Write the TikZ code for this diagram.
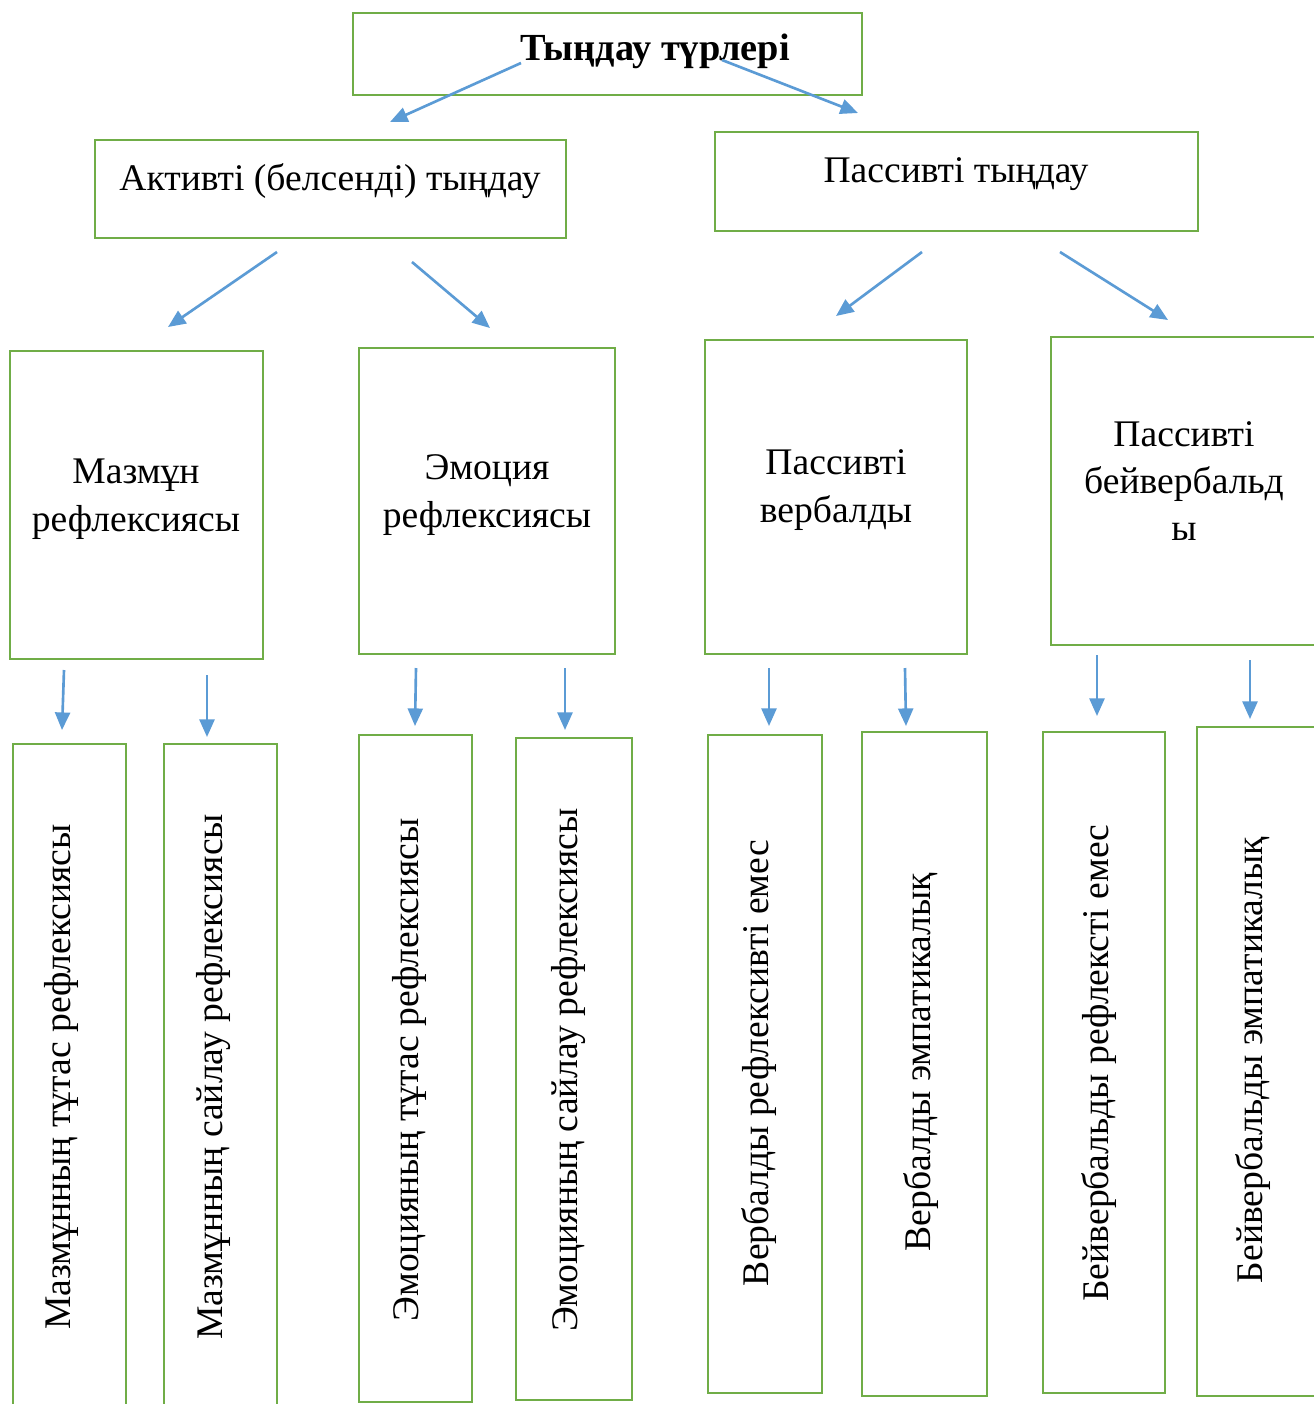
\documentclass[tikz,border=0pt]{standalone}
\usepackage{fontspec}
\setmainfont{Liberation Serif}
\usetikzlibrary{arrows.meta}
\definecolor{boxgreen}{RGB}{112,173,71}
\definecolor{arrowblue}{RGB}{91,155,213}
\tikzset{
  gbox/.style={draw=boxgreen,line width=1.6pt,inner sep=0pt,outer sep=0pt},
  lbl/.style={font=\fontsize{21.4}{27}\selectfont,inner sep=0pt,align=center},
  vlbl/.style={lbl,rotate=90,anchor=base},
  arr/.style={draw=arrowblue,line width=1.5pt,-{Triangle[length=10pt,width=8.5pt]}},
}

\begin{document}
\begin{tikzpicture}[x=0.02cm,y=-0.02cm]
\clip (0,0) rectangle (1314,1404);
\fill[white] (0,0) rectangle (1314,1404);
% top level
\node[gbox,minimum width=10.18cm,minimum height=1.64cm](rootbox) at (607.5,54){};
\node[lbl,font=\fontsize{21.8}{27}\selectfont\bfseries,anchor=base](root) at (655,60){Тыңдау түрлері};
\node[gbox,minimum width=9.42cm,minimum height=1.96cm](actbox) at (330.5,189){};
\node[lbl,anchor=base](act) at (330,190){Активті (белсенді) тыңдау};
\node[gbox,minimum width=9.66cm,minimum height=1.98cm](pasbox) at (956.5,181.5){};
\node[lbl,anchor=base](pas) at (956,182){Пассивті тыңдау};
% middle level
\node[gbox,minimum width=5.06cm,minimum height=6.16cm](mazbox) at (136.5,505){};
\node[lbl](maz) at (136,499){Мазмұн\\рефлексиясы};
\node[gbox,minimum width=5.12cm,minimum height=6.12cm](emobox) at (487,501){};
\node[lbl](emo) at (487,495){Эмоция\\рефлексиясы};
\node[gbox,minimum width=5.24cm,minimum height=6.28cm](verbox) at (836,497){};
\node[lbl](ver) at (836,490){Пассивті\\вербалды};
\node[gbox,minimum width=5.58cm,minimum height=6.16cm](beibox) at (1190.5,491){};
\node[lbl](bei) at (1184,481){Пассивті\\бейвербальд\\ы};
% bottom level
\node[gbox,minimum width=2.26cm,minimum height=13.52cm](b1) at (69.5,1082){};
\node[vlbl](t1) at (71,1077){Мазмұнның тұтас рефлексиясы};
\node[gbox,minimum width=2.26cm,minimum height=13.52cm](b2) at (220.5,1082){};
\node[vlbl](t2) at (222,1077){Мазмұнның сайлау рефлексиясы};
\node[gbox,minimum width=2.26cm,minimum height=13.34cm](b3) at (415.5,1068.5){};
\node[vlbl](t3) at (418,1070){Эмоцияның тұтас рефлексиясы};
\node[gbox,minimum width=2.32cm,minimum height=13.24cm](b4) at (574,1069){};
\node[vlbl](t4) at (577,1070){Эмоцияның сайлау рефлексиясы};
\node[gbox,minimum width=2.28cm,minimum height=13.16cm](b5) at (765,1064){};
\node[vlbl](t5) at (768,1063){Вербалды рефлексивті емес};
\node[gbox,minimum width=2.5cm,minimum height=13.28cm](b6) at (924.5,1064){};
\node[vlbl](t6) at (930,1062){Вербалды эмпатикалық};
\node[gbox,minimum width=2.44cm,minimum height=13.22cm](b7) at (1104,1062.5){};
\node[vlbl](t7) at (1108,1063){Бейвербальды рефлексті емес};
\node[gbox,minimum width=2.66cm,minimum height=13.38cm](b8) at (1263.5,1061.5){};
\node[vlbl](t8) at (1262,1060){Бейвербальды эмпатикалық};
% arrows
\foreach \n/\xa/\ya/\xb/\yb in {r1/521/63/390/122, r2/722/60/858/113,
    a1/277/252/168/327, a2/412/262/490/328, p1/922/252/836/316, p2/1060/252/1168/320,
    d1/64/670/62/730, d2/207/675/207/737, d3/416/668/415/726, d4/565/668/565/730,
    d5/769/668/769/726, d6/905/668/906/726, d7/1097/655/1097/716, d8/1250/660/1250/719}{
  \coordinate (\n s) at (\xa,\ya);
  \coordinate (\n e) at (\xb,\yb);
  \draw[arr] (\n s) -- (\n e);
}
\end{tikzpicture}
\end{document}
